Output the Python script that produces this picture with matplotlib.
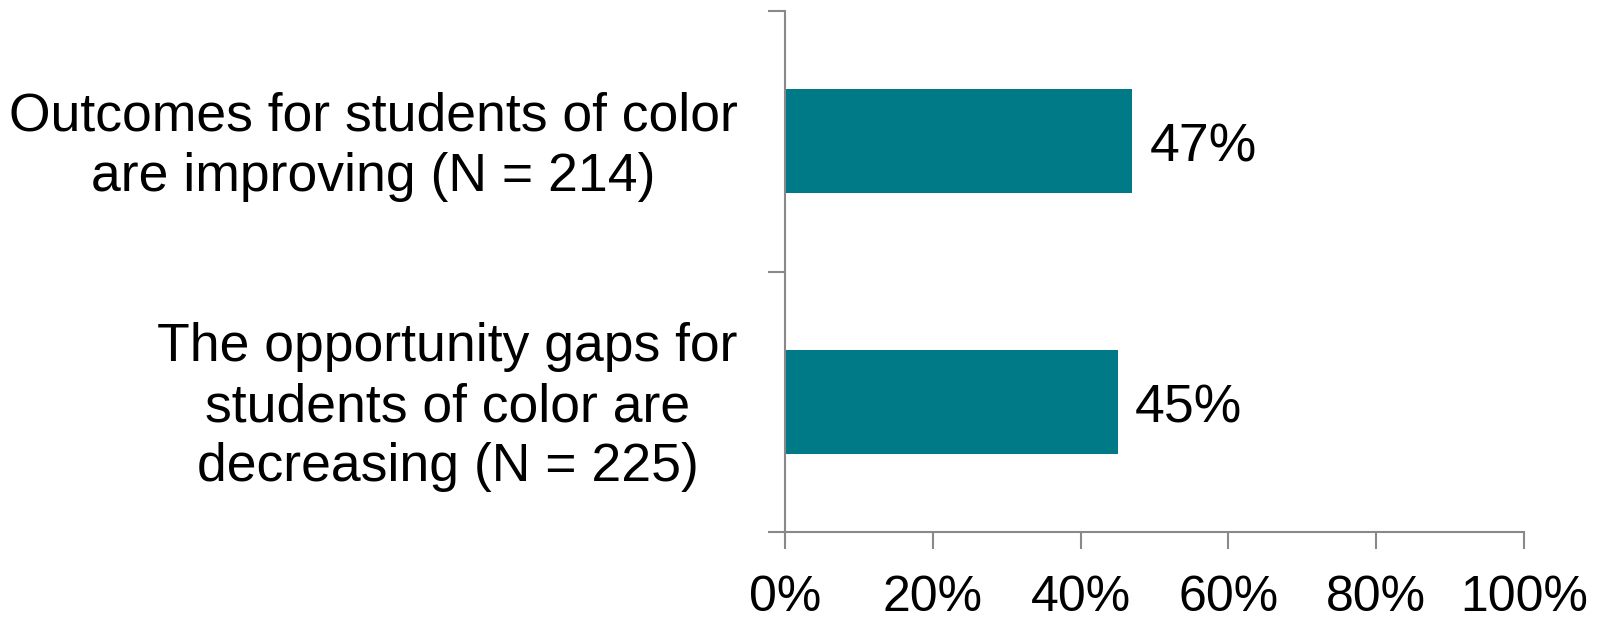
import matplotlib.pyplot as plt
import matplotlib
import matplotlib.transforms as mtransforms
matplotlib.rcParams['font.family'] = ['Liberation Sans', 'DejaVu Sans']

categories = ['Outcomes for students of color\nare improving (N = 214)',
              'The opportunity gaps for\nstudents of color are\ndecreasing (N = 225)']
values = [47, 45]
x_ticks = [0, 20, 40, 60, 80, 100]
x_labels = ['0%', '20%', '40%', '60%', '80%', '100%']

bar_color = '#007A86'
axis_color = '#898989'

fig = plt.figure(figsize=(16.02, 6.18), dpi=100)
ax = fig.add_axes([0.490, 0.139, 0.4613, 0.843])

y = list(range(len(categories)))
ax.barh(y, values, height=0.4, color=bar_color)

# value labels right of each bar
for yi, v in zip(y, values):
    ax.text(v + 2.3, yi + 0.025, f'{v}%', va='center', ha='left', fontsize=38.5)

ax.set_xlim(0, 100)
ax.set_ylim(1.5, -0.5)

ax.set_xticks(x_ticks)
ax.set_xticklabels(x_labels, fontsize=36)
ax.tick_params(axis='x', length=12, width=1.5, color=axis_color, pad=19)

# category labels on major ticks, boundary marks on minor ticks
ax.set_yticks(y)
ax.set_yticklabels(categories, fontsize=38.5, linespacing=1.25,
                   multialignment='center')
ax.set_yticks([-0.5, 0.5, 1.5], minor=True)
ax.tick_params(axis='y', which='major', length=0, pad=34)
ax.tick_params(axis='y', which='minor', length=12, width=1.5, color=axis_color)

# nudge category labels up a little
offset = mtransforms.ScaledTranslation(0, 5 / 100, fig.dpi_scale_trans)
for lbl in ax.get_yticklabels():
    lbl.set_transform(lbl.get_transform() + offset)

for side in ['top', 'right']:
    ax.spines[side].set_visible(False)
for side in ['left', 'bottom']:
    ax.spines[side].set_color(axis_color)
    ax.spines[side].set_linewidth(1.5)

plt.savefig('out.png', dpi=100)
